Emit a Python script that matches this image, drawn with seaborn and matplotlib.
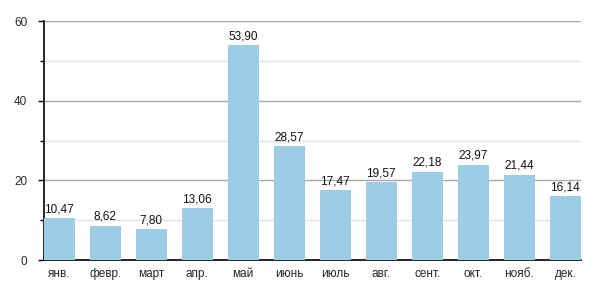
import matplotlib
matplotlib.use("Agg")
import matplotlib.pyplot as plt
import seaborn as sns
import pandas as pd
from matplotlib.ticker import MultipleLocator

months = ["янв.", "февр.", "март", "апр.", "май", "июнь", "июль", "авг.", "сент.", "окт.", "нояб.", "дек."]
values = [10.47, 8.62, 7.80, 13.06, 53.90, 28.57, 17.47, 19.57, 22.18, 23.97, 21.44, 16.14]

df = pd.DataFrame({"month": months, "value": values})

sns.set_theme(style="white")
plt.rcParams['font.family'] = ['Liberation Sans', 'DejaVu Sans']

fig = plt.figure(figsize=(6, 3), dpi=100)
ax = fig.add_axes([0.073, 0.133, 0.895, 0.797])

sns.barplot(data=df, x="month", y="value", color="#9ccde4", saturation=1, width=0.674,
            edgecolor="none", linewidth=0, ax=ax, zorder=3)

ax.set_ylim(0, 60)
ax.set_xlim(-0.337, 11.337)
ax.yaxis.set_major_locator(MultipleLocator(20))
ax.yaxis.set_minor_locator(MultipleLocator(10))
ax.grid(axis="y", which="major", color="#a8a8a8", linewidth=1, zorder=0)
ax.grid(axis="y", which="minor", color="#e2e2e2", linewidth=1, zorder=0)
ax.set_axisbelow(True)

for s in ["top", "right"]:
    ax.spines[s].set_visible(False)
for s in ["left", "bottom"]:
    ax.spines[s].set_color("black")
    ax.spines[s].set_linewidth(1.2)

ax.tick_params(axis="y", which="both", left=True, direction="out", length=4, width=1, color="black", labelsize=8.5, pad=8)
ax.tick_params(axis="y", which="minor", length=3)
ax.tick_params(axis="x", bottom=False, labelsize=8.5, pad=0)
ax.set_xlabel("")
ax.set_ylabel("")

for i, v in enumerate(values):
    ax.annotate(f"{v:.2f}".replace(".", ","), (i, v), xytext=(0, 2), textcoords="offset points",
                ha="center", va="bottom", fontsize=8.5, color="#111111")

fig.savefig("out.png", dpi=100, facecolor="white")
